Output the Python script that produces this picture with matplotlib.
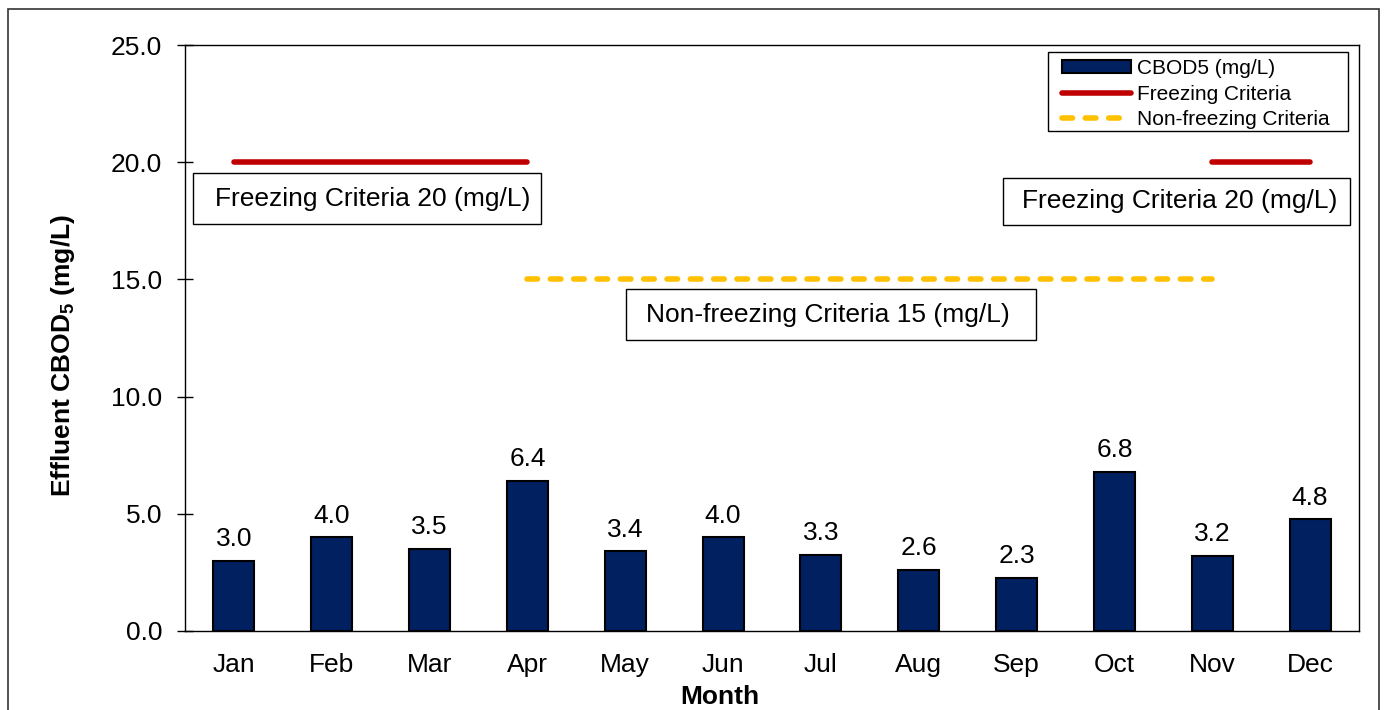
import numpy as np
import matplotlib
matplotlib.use('Agg')
import matplotlib.pyplot as plt
from matplotlib.patches import Rectangle, Patch
from matplotlib.lines import Line2D

plt.rcParams['font.family'] = ['Liberation Sans', 'DejaVu Sans']
plt.rcParams['mathtext.fontset'] = 'custom'
plt.rcParams['mathtext.rm'] = 'Liberation Sans'
plt.rcParams['mathtext.bf'] = 'Liberation Sans:bold'

# Data
months = ['Jan', 'Feb', 'Mar', 'Apr', 'May', 'Jun',
          'Jul', 'Aug', 'Sep', 'Oct', 'Nov', 'Dec']
cbod5 = [3.0, 4.0, 3.5, 6.4, 3.4, 4.0, 3.26, 2.6, 2.26, 6.8, 3.2, 4.76]
freezing = [20, 20, 20, 20, np.nan, np.nan, np.nan, np.nan, np.nan, np.nan, 20, 20]
non_freezing = [np.nan, np.nan, np.nan, 15, 15, 15, 15, 15, 15, 15, 15, np.nan]

# Criteria callouts: text, text centre (x, y), box (x0, x1, y0, y1) in data units
callout_text = ['Freezing Criteria 20 (mg/L)', 'Freezing Criteria 20 (mg/L)',
                'Non-freezing Criteria 15 (mg/L)']
callout_xy = [(1.417, 18.45), (9.666, 18.35), (6.073, 13.5)]
callout_box = [(-0.418, 3.139, 17.36, 19.54), (7.861, 11.408, 17.32, 19.33),
               (4.008, 8.199, 12.41, 14.59)]

bar_color = '#002060'
red = '#C00000'
gold = '#FFC000'
dash = (0, (1.9, 2.3))

fig = plt.figure(figsize=(13.86, 7.10), dpi=100)
ax = fig.add_axes([0.1335, 0.1113, 0.9805 - 0.1335, 0.9366 - 0.1113])

x = np.arange(len(months))
ax.bar(x, cbod5, width=0.42, color=bar_color, edgecolor='black', linewidth=1.5, zorder=3)
ax.plot(x, freezing, color=red, linewidth=4, solid_capstyle='round', zorder=4)
ax.plot(x, non_freezing, color=gold, linewidth=4, linestyle=dash,
        dash_capstyle='round', zorder=4)

# data labels
for xi, v in zip(x, cbod5):
    ax.annotate(f'{v:.1f}', (xi, v), xytext=(0, 7), textcoords='offset points',
                ha='center', va='bottom', fontsize=19)

# criteria text boxes
for txt, (tx, ty), (x0, x1, y0, y1) in zip(callout_text, callout_xy, callout_box):
    ax.add_patch(Rectangle((x0, y0), x1 - x0, y1 - y0, facecolor='white',
                           edgecolor='black', linewidth=1, zorder=5, clip_on=False))
    ax.text(tx, ty, txt, ha='center', va='center', fontsize=19, zorder=6)

ax.set_xlim(-0.5, 11.5)
ax.set_ylim(0, 25)
yticks = np.arange(0, 25.1, 5)
ax.set_yticks(yticks)
ax.set_yticklabels([f'{t:.1f}' for t in yticks])
ax.set_xticks(x)
ax.set_xticklabels(months)
ax.tick_params(axis='y', direction='inout', length=11, width=1, pad=11, labelsize=19)
ax.tick_params(axis='x', length=0, pad=16, labelsize=19)
for s in ax.spines.values():
    s.set_linewidth(1)

ax.set_xlabel('Month', fontsize=19, fontweight='bold')
ax.xaxis.set_label_coords(0.4557, -0.092)
ax.set_ylabel(r'Effluent CBOD$_\mathbf{5}$ (mg/L)', fontsize=19, fontweight='bold')
ax.yaxis.set_label_coords(-0.092, 0.47)

# legend (frame drawn separately for Excel-like padding)
handles = [Patch(facecolor=bar_color, edgecolor='black', linewidth=1.5),
           Line2D([], [], color=red, linewidth=4, solid_capstyle='round'),
           Line2D([], [], color=gold, linewidth=4, linestyle=dash,
                  dash_capstyle='round')]
labels = ['CBOD5 (mg/L)', 'Freezing Criteria', 'Non-freezing Criteria']
ax.legend(handles, labels, loc='upper left', bbox_to_anchor=(0.747, 0.976),
          borderaxespad=0, borderpad=0, fontsize=15, frameon=False,
          handlelength=3.3, handleheight=0.6, handletextpad=0.3,
          labelspacing=0.31)
ax.add_patch(Rectangle((0.7351, 0.8532), 0.9906 - 0.7351, 0.988 - 0.8532,
                       transform=ax.transAxes, fill=False, edgecolor='black',
                       linewidth=1, zorder=6))

# outer chart border
fig.patches.append(Rectangle((8 / 1386, -0.02), (1379 - 8) / 1386, 1.02 - 9 / 710,
                             transform=fig.transFigure, fill=False,
                             edgecolor='#333333', linewidth=1.2))

fig.savefig('out.png', dpi=100)
